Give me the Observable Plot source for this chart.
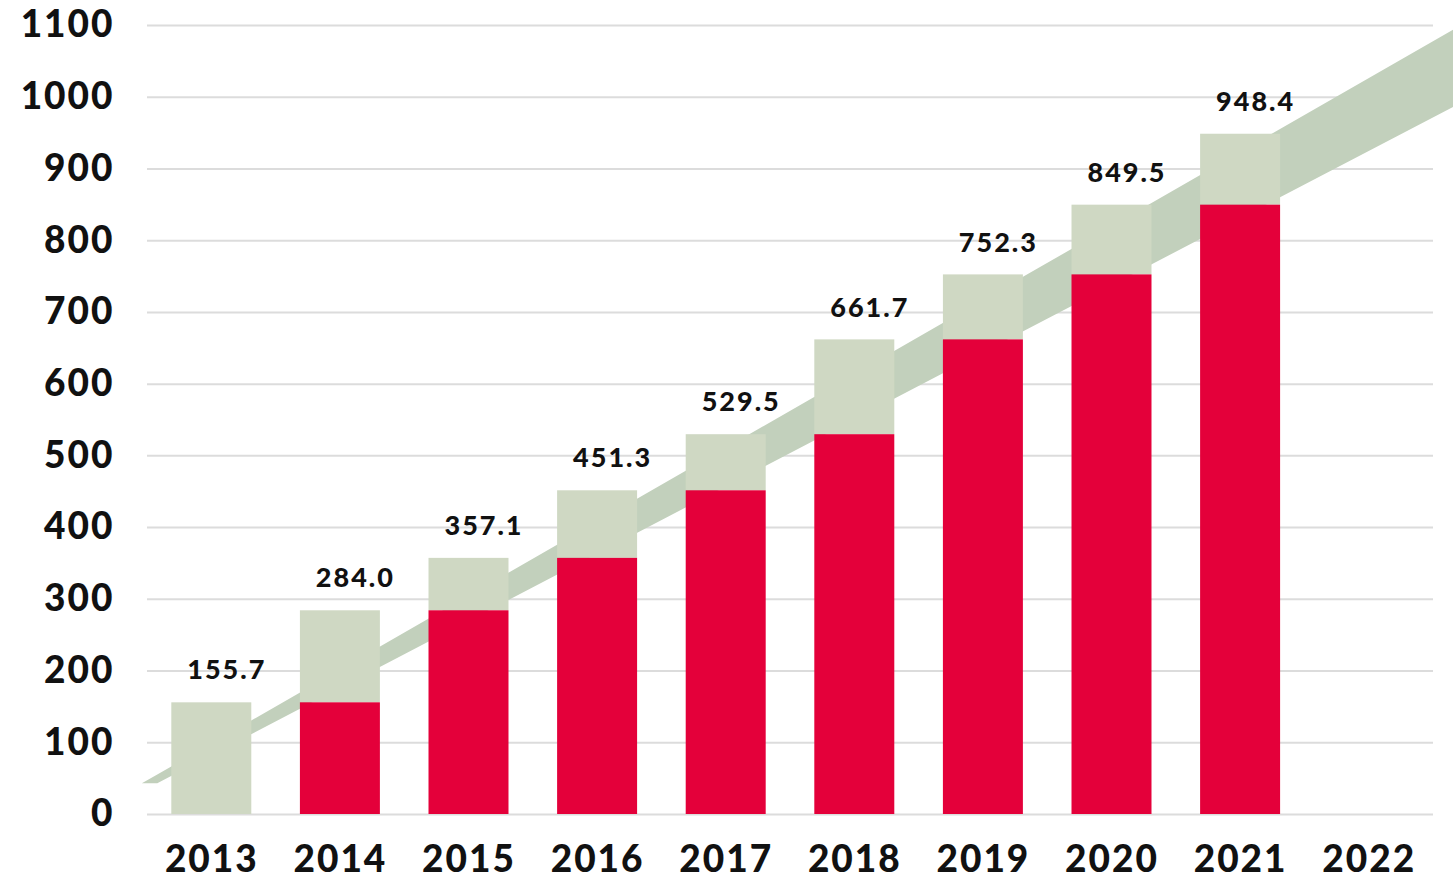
<!DOCTYPE html>
<html>
<head>
<meta charset="utf-8">
<script src="https://cdn.jsdelivr.net/npm/d3@7"></script>
<script src="https://cdn.jsdelivr.net/npm/@observablehq/plot@0.6"></script>
<style>
  html, body { margin: 0; padding: 0; background: #fff; overflow: hidden; }
  #chart svg { display: block; }
  #chart svg text { letter-spacing: 2px; }
</style>
</head>
<body>
<div id="chart"></div>
<script>
// ---- data ----
const years = [2013, 2014, 2015, 2016, 2017, 2018, 2019, 2020, 2021];
const totals = [155.7, 284.0, 357.1, 451.3, 529.5, 661.7, 752.3, 849.5, 948.4];
const previous = [0, 155.7, 284.0, 357.1, 451.3, 529.5, 661.7, 752.3, 849.5];
const tickYears = [2013, 2014, 2015, 2016, 2017, 2018, 2019, 2020, 2021, 2022];
const yTicks = [0, 100, 200, 300, 400, 500, 600, 700, 800, 900, 1000, 1100];
// decorative growth band (x in years, y in values)
const bandX = [2012.46, 2012.58, 2022.66];
const bandLow = [43, 43, 986];
const bandHigh = [43, 55, 1094];

const halfBar = 0.311;
const bars = years.map((y, i) => ({year: y, x1: y - halfBar, x2: y + halfBar, total: totals[i], prev: previous[i]}));
const band = bandX.map((x, i) => ({x, lo: bandLow[i], hi: bandHigh[i]}));

const RED = "#e4003a";
const LIGHT = "#cfd8c3";
const BAND = "#c2d0bc";
const FONT = "Lato, 'Open Sans', sans-serif";

const chart = Plot.plot({
  width: 1453,
  height: 877,
  marginLeft: 147,
  marginRight: 20,
  marginTop: 25,
  marginBottom: 63,
  style: {fontFamily: FONT, background: "#fff", overflow: "visible"},
  x: {type: "linear", domain: [2012.5, 2022.5], axis: null},
  y: {domain: [0, 1100], axis: null},
  marks: [
    Plot.ruleY(yTicks, {stroke: "#dcdcdc", strokeWidth: 2}),
    Plot.areaY(band, {x: "x", y1: "lo", y2: "hi", fill: BAND, curve: "linear"}),
    Plot.rect(bars, {x1: "x1", x2: "x2", y1: "prev", y2: "total", fill: LIGHT}),
    Plot.rect(bars.filter(d => d.prev > 0), {x1: "x1", x2: "x2", y1: () => 0, y2: "prev", fill: RED}),
    Plot.text(bars, {x: "year", y: "total", text: d => d.total.toFixed(1), dy: -32, dx: 15, fontSize: 27, fontWeight: 900, fill: "#111"}),
    Plot.axisY(yTicks, {tickSize: 0, tickPadding: 33, fontSize: 37, fontWeight: 900, tickFormat: d => String(d), fill: "#111"}),
    Plot.axisX(tickYears, {tickSize: 0, tickPadding: 31, fontSize: 37, fontWeight: 900, tickFormat: d => String(d), fill: "#111"})
  ]
});
document.getElementById("chart").appendChild(chart);
</script>
</body>
</html>
